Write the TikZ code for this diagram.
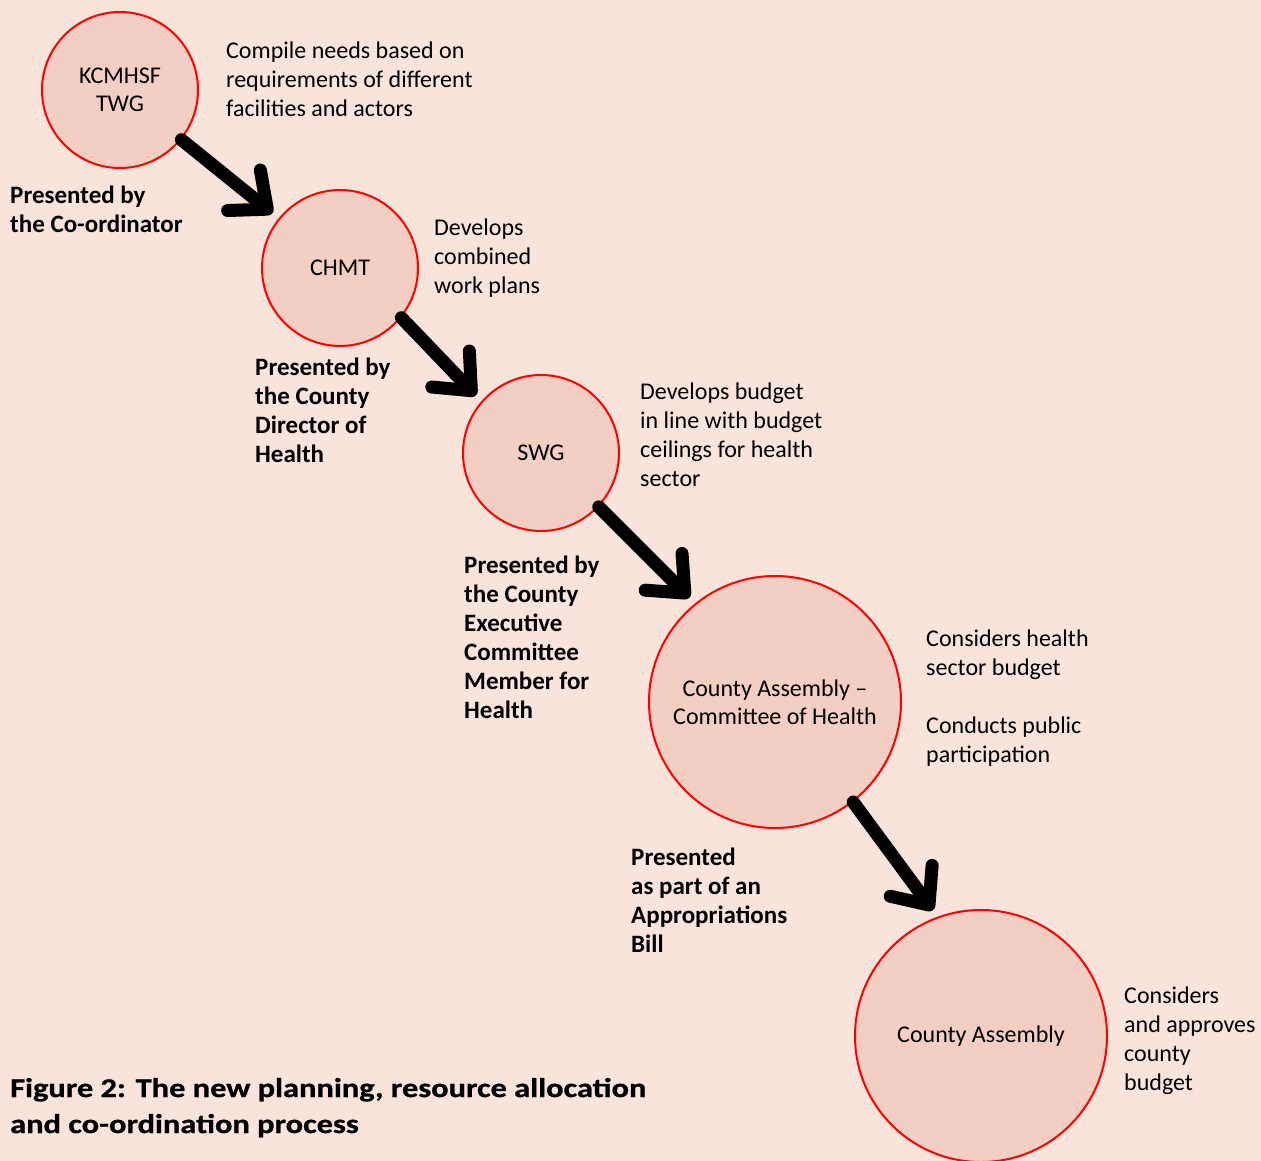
\documentclass[tikz,border=0pt]{standalone}
\usepackage{fontspec}
\setmainfont{Carlito}
\usetikzlibrary{arrows.meta}
\definecolor{bg}{RGB}{248,228,219}
\definecolor{cfill}{RGB}{242,207,194}
\definecolor{cline}{RGB}{255,0,0}
\begin{document}
\begin{tikzpicture}[x=1pt,y=-1pt,
 stage/.style={circle,draw=cline,line width=2pt,fill=cfill,inner sep=0pt,align=center,font=\fontsize{24}{28}\selectfont},
 smallc/.style={minimum size=156pt},
 bigc/.style={minimum size=252pt},
 note/.style={anchor=base west,align=left,inner sep=0pt,font=\fontsize{24}{29}\selectfont},
 bnote/.style={anchor=base west,align=left,inner sep=0pt,font=\fontsize{25}{29}\selectfont\bfseries},
 flow/.style={line width=13pt,line cap=round,shorten >=8pt,-{Straight Barb[length=30pt,width=52pt,line cap=round,line join=round]}}
]
\fill[bg] (0,0) rectangle (1261,1161);
\useasboundingbox (0,0) rectangle (1261,1161);

\node[stage,smallc] (twg) at (120,90) {KCMHSF\\TWG};
\node[stage,smallc] (chmt) at (340,268) {CHMT};
\node[stage,smallc] (swg) at (541,453) {SWG};
\node[stage,bigc] (ca) at (775,702) {County Assembly --\\Committee of Health};
\node[stage,bigc] (cb) at (981,1036) {County Assembly};

\draw[flow] (twg.-39.5) -- (chmt.141);
\draw[flow] (chmt.-39.5) -- (swg.139);
\draw[flow] (swg.-43) -- (ca.129.8);
\draw[flow] (ca.-52) -- (cb.110);

% anchors are at the baseline of the last line of each text
\node[note] (n1) at (226,117) {Compile needs based on\\requirements of different\\facilities and actors};
\node[bnote] (p1) at (10,233) {Presented by\\the Co-ordinator};
\node[note] (n2) at (434,293) {Develops\\combined\\work plans};
\node[bnote] (p2) at (255,462) {Presented by\\the County\\Director of\\Health};
\node[note] (n3) at (640,486) {Develops budget\\in line with budget\\ceilings for health\\sector};
\node[bnote] (p3) at (464,718) {Presented by\\the County\\Executive\\Committee\\Member for\\Health};
\node[note] (n4) at (926,762) {Considers health\\sector budget\\[29pt]Conducts public\\participation};
\node[bnote] (p4) at (631,952) {Presented\\as part of an\\Appropriations\\Bill};
\node[note] (n5) at (1124,1090) {Considers\\and approves\\county\\budget};
\node[anchor=base west,align=left,inner sep=0pt,font=\fontsize{27}{36}\selectfont\bfseries\addfontfeatures{FakeStretch=1.2,FakeBold=0.8}] (cap) at (10,1133) {Figure 2: The new planning, resource allocation\\and co-ordination process};
\end{tikzpicture}
\end{document}
